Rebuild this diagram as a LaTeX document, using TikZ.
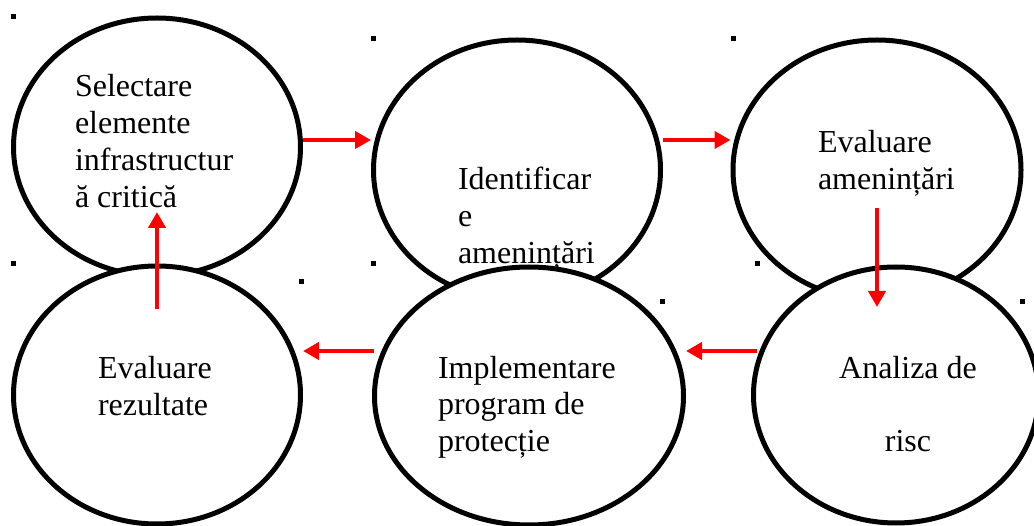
\documentclass[tikz,border=0pt]{standalone}
\usepackage{fontspec}
\setmainfont{Liberation Serif}
\usetikzlibrary{shapes.geometric,arrows.meta}

\tikzset{
  stage/.style={ellipse, draw=black, line width=5pt, fill=white, inner sep=0pt},
  % multi-line labels: the base anchor sits on the baseline of the last line
  label/.style={inner sep=0pt, outer sep=0pt, align=left, anchor=base west,
                font=\fontsize{32}{36.8}\selectfont},
  flow/.style={draw=red, line width=4.5pt,
               -{Triangle[length=16pt,width=17pt]}},
  marker/.style={fill=black}
}

\begin{document}
\begin{tikzpicture}[x=1pt,y=-1pt]
\useasboundingbox (0,0) rectangle (1034,526);
\clip (0,0) rectangle (1034,526);

% upper row of stages
\node[stage, minimum width=287pt, minimum height=258pt] (e1) at (157,147) {};
\node[stage, minimum width=287pt, minimum height=260pt] (e2) at (517,170) {};
\node[stage, minimum width=288pt, minimum height=260pt] (e3) at (877,170) {};

\node[label] (t1) at (75,207.4) {Selectare\\elemente\\infrastructur\\ă critică};
\node[label] (t2) at (458,263.6) {Identificar\\e\\amenințări};
\node[label] (t3) at (818,189.8) {Evaluare\\amenințări};

% lower row of stages, laid over the upper one
\node[stage, minimum width=287pt, minimum height=258pt] (e4) at (157,395) {};
\node[stage, minimum width=309pt, minimum height=258pt] (e5) at (529,396) {};
\node[stage, minimum width=285pt, minimum height=256pt] (e6) at (896,395) {};

\node[label] (t4) at (98,415.8) {Evaluare\\rezultate};
\node[label] (t5) at (438,451.6) {Implementare\\program de\\protecție};
\node[label, align=center, anchor=base] (t6) at (908,451.6) {Analiza de\\\mbox{}\\risc};

% flow between the stages
\coordinate (a1s) at ([yshift=7pt]e1.east);
\draw[flow] (a1s) -- (a1s -| e2.west);
\coordinate (a2s) at ([yshift=30pt]e2.east);
\draw[flow] (a2s) -- (a2s -| e3.west);
\draw[flow] ([yshift=-38pt]e3.center) -- ([yshift=-137pt]e3.center);
\coordinate (a4s) at ([xshift=6pt,yshift=44pt]e6.west);
\draw[flow] (a4s) -- (a4s -| e5.east);
\coordinate (a5s) at ([xshift=2pt,yshift=45pt]e5.west);
\draw[flow] (a5s) -- (a5s -| e4.east);
\draw[flow] ([yshift=86pt]e4.center) -- ([yshift=-65pt]e1.center);

% small square markers
\foreach \px/\py in {13/17, 13/264, 301/282, 373/39, 373/264,
                     733/39, 757/264, 662/302, 1022/302}
  \fill[marker] (\px-2.5,\py-2.5) rectangle ++(5,5);
\end{tikzpicture}
\end{document}
